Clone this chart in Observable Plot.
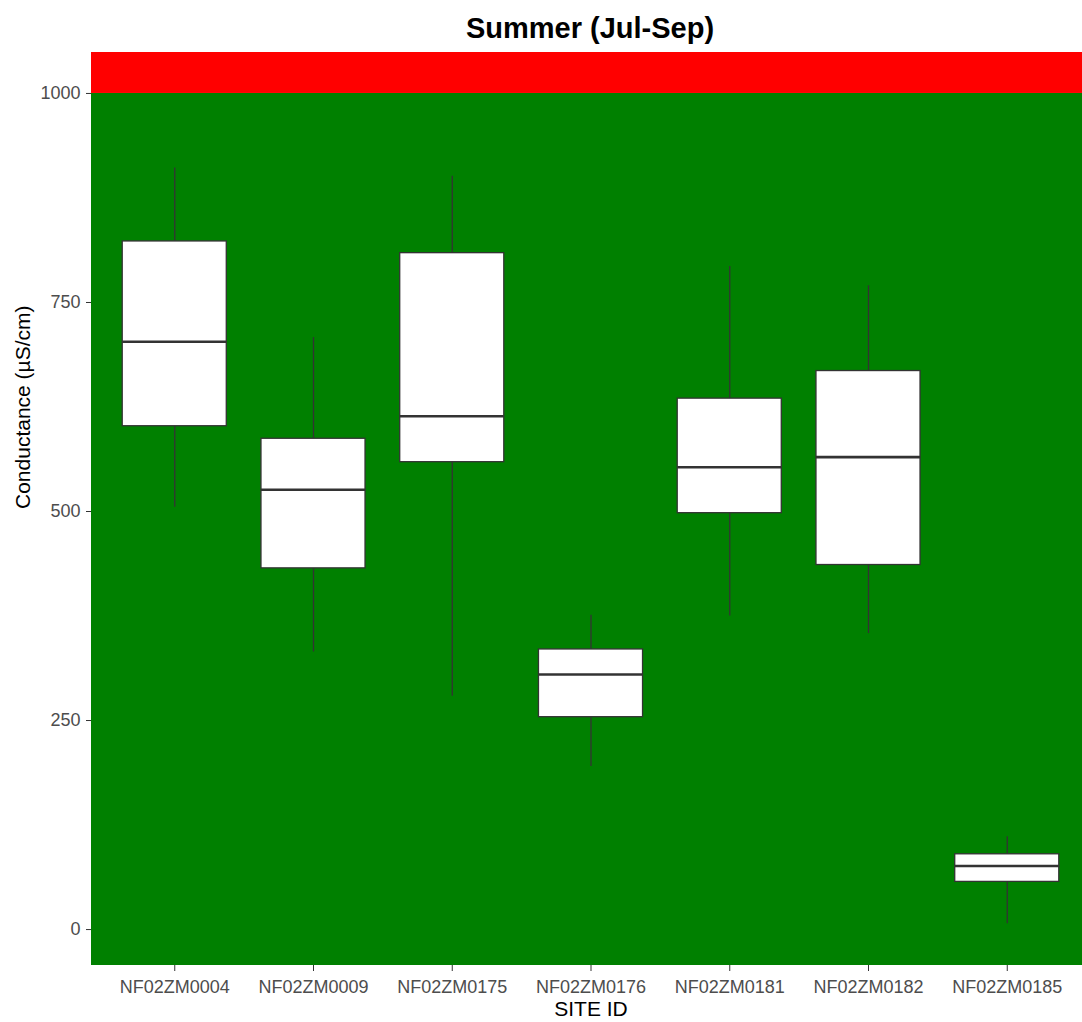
<!DOCTYPE html>
<html>
<head>
<meta charset="utf-8">
<script src="https://cdn.jsdelivr.net/npm/d3@7"></script>
<script src="https://cdn.jsdelivr.net/npm/@observablehq/plot@0.6"></script>
<style>
  body { margin: 0; background: #fff; font-family: "Liberation Sans", Arial, sans-serif; overflow: hidden; }
  #title { height: 52px; width: 1082px; position: relative; }
  #title span { position: absolute; left: 590px; top: 28px; transform: translate(-50%, -50%);
    font-size: 29px; font-weight: bold; color: #000; white-space: nowrap; }
  #chart { width: 1082px; overflow: hidden; }
  #chart svg { max-width: none !important; display: block; }
</style>
</head>
<body>
<div id="title"><span>Summer (Jul-Sep)</span></div>
<div id="chart"></div>
<script>
// Site identifiers
const sites = ["NF02ZM0004", "NF02ZM0009", "NF02ZM0175", "NF02ZM0176", "NF02ZM0181", "NF02ZM0182", "NF02ZM0185"];
// Box-plot summary per site (µS/cm)
const whiskerLow = [505, 332, 279, 195, 375, 354, 7];
const q1 = [602, 432, 559, 254, 498, 436, 57];
const median = [703, 526, 614, 305, 553, 565, 76];
const q3 = [823, 587, 809, 335, 635, 668, 90];
const whiskerHigh = [911, 708, 901, 376, 793, 770, 111];
// Threshold bands behind the boxes
const bandLimit = 1000;
const yTicks = [0, 250, 500, 750, 1000];

const rows = sites.map((s, i) => ({
  site: s, lo: whiskerLow[i], q1: q1[i], med: median[i], q3: q3[i], hi: whiskerHigh[i]
}));
const bands = [
  {y1: -43, y2: bandLimit, fill: "#008000"},
  {y1: bandLimit, y2: 1049, fill: "#ff0000"}
];

// The panel runs slightly past the right edge of the page
const chart = Plot.plot({
  width: 1090,
  height: 970,
  marginTop: 0,
  marginLeft: 91,
  marginRight: 0,
  marginBottom: 57,
  style: {fontFamily: "'Liberation Sans', Arial, sans-serif", fontSize: "18px", background: "#fff", maxWidth: "none"},
  x: {type: "band", domain: sites, paddingInner: 0.25, paddingOuter: 0.225, round: false, label: null},
  y: {domain: [-43, 1049], label: null},
  marks: [
    Plot.rect(bands, {y1: "y1", y2: "y2", fill: "fill"}),
    Plot.ruleX(rows, {x: "site", y1: "lo", y2: "q1", stroke: "#333", strokeWidth: 1.3}),
    Plot.ruleX(rows, {x: "site", y1: "q3", y2: "hi", stroke: "#333", strokeWidth: 1.3}),
    Plot.barY(rows, {x: "site", y1: "q1", y2: "q3", fill: "#fff", stroke: "#333", strokeWidth: 1.3}),
    Plot.tickY(rows, {x: "site", y: "med", stroke: "#333", strokeWidth: 2.6}),
    Plot.axisY(yTicks, {tickSize: 5, tickPadding: 6, stroke: "#333", color: "#4d4d4d", fontSize: 18, tickFormat: d => String(d), label: null}),
    Plot.axisX({tickSize: 6, tickPadding: 9, stroke: "#333", color: "#4d4d4d", fontSize: 18, label: null}),
    Plot.text(["SITE ID"], {frameAnchor: "bottom", dy: 50, fontSize: 21, fill: "#000"}),
    Plot.text(["Conductance (µS/cm)"], {frameAnchor: "left", dx: -68, rotate: -90, fontSize: 21, fill: "#000"})
  ]
});
chart.style.maxWidth = "none";
document.getElementById("chart").appendChild(chart);
</script>
</body>
</html>
